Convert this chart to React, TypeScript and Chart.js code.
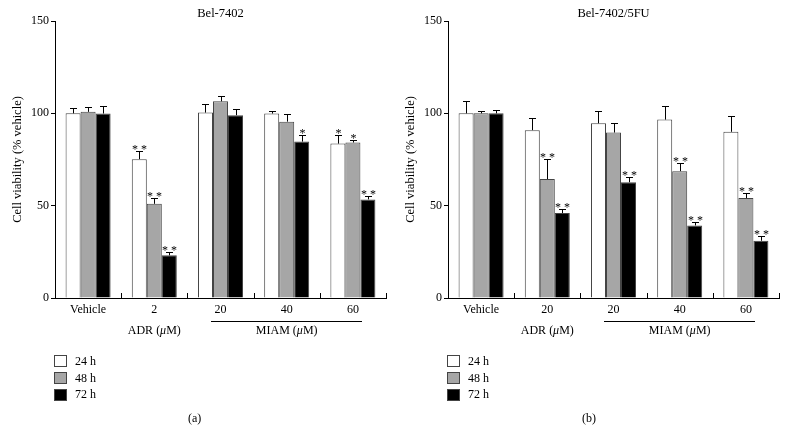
import React, { useEffect, useRef } from 'react';
import { Chart, ChartConfiguration, Plugin, registerables } from 'chart.js';

Chart.register(...registerables);

const FONT = "'Liberation Serif', 'Times New Roman', serif";

const seriesLabels = ['24 h', '48 h', '72 h'];
const seriesFills = ['#ffffff', '#a6a6a6', '#000000'];

// Panel (a) Bel-7402
const categoriesA = ['Vehicle', '2', '20', '40', '60'];
const meanA24 = [100, 75.2, 100.4, 99.9, 83.6];
const meanA48 = [100.8, 51.0, 106.5, 95.5, 84.2];
const meanA72 = [99.9, 23.1, 99.0, 84.7, 53.4];
const errA24 = [2.9, 4.3, 4.5, 1.6, 4.4];
const errA48 = [2.9, 3.4, 2.7, 4.0, 1.3];
const errA72 = [4.3, 1.8, 3.2, 3.3, 1.8];
const sigA24 = ['', '**', '', '', '*'];
const sigA48 = ['', '**', '', '', '*'];
const sigA72 = ['', '**', '', '*', '**'];

// Panel (b) Bel-7402/5FU
const categoriesB = ['Vehicle', '20', '20', '40', '60'];
const meanB24 = [100, 90.9, 94.6, 96.6, 90.0];
const meanB48 = [100, 64.4, 89.6, 68.7, 54.1];
const meanB72 = [100, 46.0, 62.7, 39.3, 31.0];
const errB24 = [6.5, 6.6, 6.4, 7.2, 8.4];
const errB48 = [1.3, 10.8, 5.0, 4.5, 2.7];
const errB72 = [1.8, 2.3, 2.7, 2.0, 2.4];
const sigB24 = ['', '', '', '', ''];
const sigB48 = ['', '**', '', '**', '**'];
const sigB72 = ['', '**', '**', '**', '**'];

const yTicks = [0, 50, 100, 150];

interface PanelProps {
  title: string;
  categories: string[];
  means: number[][];
  errs: number[][];
  sigs: string[][];
  caption: string;
  captionX: number;
  left: number;
}

const drawMu = (ctx: CanvasRenderingContext2D, text: string, cx: number, y: number) => {
  // text like "ADR (μM)" with an italic μ
  const [pre, post] = text.split('μ');
  ctx.font = `12px ${FONT}`;
  const w1 = ctx.measureText(pre).width;
  const w3 = ctx.measureText(post).width;
  ctx.font = `italic 12px ${FONT}`;
  const w2 = ctx.measureText('μ').width;
  let x = cx - (w1 + w2 + w3) / 2;
  ctx.textAlign = 'left';
  ctx.font = `12px ${FONT}`;
  ctx.fillText(pre, x, y);
  x += w1;
  ctx.font = `italic 12px ${FONT}`;
  ctx.fillText('μ', x, y);
  x += w2;
  ctx.font = `12px ${FONT}`;
  ctx.fillText(post, x, y);
};

const Panel: React.FC<PanelProps> = ({ title, categories, means, errs, sigs, caption, captionX, left }) => {
  const canvasRef = useRef<HTMLCanvasElement>(null);
  const chartRef = useRef<Chart | null>(null);

  useEffect(() => {
    if (!canvasRef.current) return;
    const ctx = canvasRef.current.getContext('2d');
    if (!ctx) return;

    const extras: Plugin<'bar'> = {
      id: 'extras',
      afterDatasetsDraw: (chart) => {
        const c = chart.ctx;
        const area = chart.chartArea;
        const xs = chart.scales.x;
        c.save();
        c.strokeStyle = '#000';
        c.fillStyle = '#000';
        c.lineWidth = 1;

        // error bars and significance marks
        means.forEach((_, di) => {
          const meta = chart.getDatasetMeta(di);
          meta.data.forEach((bar: any, i: number) => {
            const top = Math.round(chart.scales.y.getPixelForValue(means[di][i] + errs[di][i])) + 0.5;
            const x = Math.round(bar.x) + 0.5;
            c.beginPath();
            c.moveTo(x, bar.y);
            c.lineTo(x, top);
            c.moveTo(x - 3.5, top);
            c.lineTo(x + 3.5, top);
            c.stroke();
            if (sigs[di][i]) {
              c.font = `12px ${FONT}`;
              c.textAlign = 'center';
              c.textBaseline = 'alphabetic';
              c.fillText(sigs[di][i].split('').join(' '), x, top + 1);
            }
          });
        });

        // upward ticks at group boundaries
        for (let i = 1; i <= categories.length; i++) {
          const bx = i < categories.length
            ? (xs.getPixelForValue(i - 1) + xs.getPixelForValue(i)) / 2
            : area.right;
          const px = Math.round(bx) + 0.5;
          c.beginPath();
          c.moveTo(px, area.bottom);
          c.lineTo(px, area.bottom - 5);
          c.stroke();
        }

        // group labels
        c.textBaseline = 'middle';
        drawMu(c, 'ADR (μM)', xs.getPixelForValue(1), area.bottom + 33);
        drawMu(c, 'MIAM (μM)', xs.getPixelForValue(3), area.bottom + 33);
        const lx0 = Math.round(xs.getPixelForValue(2) - 10);
        const lx1 = Math.round(xs.getPixelForValue(4) + 9);
        c.beginPath();
        c.moveTo(lx0, area.bottom + 23.5);
        c.lineTo(lx1, area.bottom + 23.5);
        c.stroke();

        // title
        c.font = `12.5px ${FONT}`;
        c.textAlign = 'center';
        c.textBaseline = 'middle';
        c.fillText(title, (area.left + area.right) / 2, 14);
        c.restore();
      }
    };

    const config: ChartConfiguration<'bar'> = {
      type: 'bar',
      data: {
        labels: categories,
        datasets: means.map((m, i) => ({
          label: seriesLabels[i],
          data: m,
          backgroundColor: seriesFills[i],
          borderColor: '#444',
          borderWidth: 1,
          categoryPercentage: 0.68,
          barPercentage: 1
        }))
      },
      options: {
        responsive: false,
        animation: false,
        layout: { padding: { top: 21, right: 9, left: 0, bottom: 0 } },
        plugins: {
          legend: { display: false },
          tooltip: { enabled: false },
          title: { display: false }
        },
        scales: {
          x: {
            grid: { display: true, drawOnChartArea: false, drawTicks: false, offset: true },
            border: { display: true, color: '#000', width: 1 },
            ticks: { color: '#000', font: { family: FONT, size: 12 }, padding: 5, maxRotation: 0, autoSkip: false },
            afterFit: (scale) => { scale.height = 135; }
          },
          y: {
            min: 0,
            max: 150,
            afterBuildTicks: (scale) => { scale.ticks = yTicks.map((v) => ({ value: v })); },
            grid: { drawOnChartArea: false, drawTicks: true, tickLength: 4, color: '#000' },
            border: { display: true, color: '#000', width: 1 },
            ticks: { color: '#000', font: { family: FONT, size: 12 }, padding: 2 },
            title: {
              display: true,
              text: 'Cell viability (% vehicle)',
              color: '#000',
              font: { family: FONT, size: 12.5 },
              padding: { top: 10, bottom: 0 }
            },
            afterFit: (scale) => { scale.width = 55; }
          }
        }
      },
      plugins: [extras]
    };

    chartRef.current = new Chart(ctx, config);
    return () => {
      chartRef.current?.destroy();
      chartRef.current = null;
    };
  }, [title, categories, means, errs, sigs]);

  return (
    <div style={{ position: 'absolute', left, top: 0, width: 395, height: 433 }}>
      <canvas ref={canvasRef} width={395} height={433} style={{ width: 395, height: 433 }} />
      {/* Legend */}
      <div style={{ position: 'absolute', left: 54, top: 353, fontFamily: FONT, fontSize: 12, color: '#000' }}>
        {seriesLabels.map((s, i) => (
          <div key={s} style={{ display: 'flex', alignItems: 'center', height: 16.7 }}>
            <span style={{ display: 'inline-block', width: 13, height: 12, boxSizing: 'border-box', border: '1px solid #444', background: seriesFills[i], marginRight: 8 }} />
            <span>{s}</span>
          </div>
        ))}
      </div>
      <div style={{ position: 'absolute', left: captionX, top: 411, fontFamily: FONT, fontSize: 12, color: '#000' }}>
        {caption}
      </div>
    </div>
  );
};

const App: React.FC = () => {
  useEffect(() => {
    document.body.style.margin = '0';
  }, []);
  return (
    <div style={{ position: 'relative', width: 790, height: 433, background: '#fff', overflow: 'hidden' }}>
      <Panel
        title="Bel-7402"
        categories={categoriesA}
        means={[meanA24, meanA48, meanA72]}
        errs={[errA24, errA48, errA72]}
        sigs={[sigA24, sigA48, sigA72]}
        caption="(a)"
        captionX={188}
        left={0}
      />
      <Panel
        title="Bel-7402/5FU"
        categories={categoriesB}
        means={[meanB24, meanB48, meanB72]}
        errs={[errB24, errB48, errB72]}
        sigs={[sigB24, sigB48, sigB72]}
        caption="(b)"
        captionX={189}
        left={393}
      />
    </div>
  );
};

export default App;
